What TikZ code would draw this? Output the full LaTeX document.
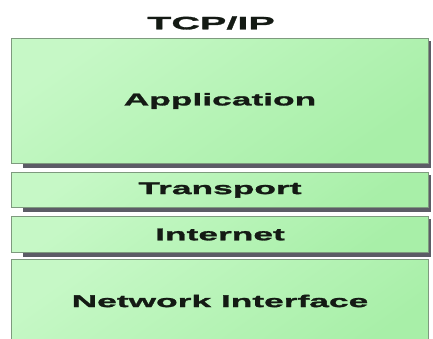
\documentclass[tikz,border=0pt]{standalone}
\usepackage{fontspec}
\newfontfamily\layerfont{Liberation Sans}[FakeStretch=2.08, FakeBold=1.6]
\newfontfamily\titlefont{Liberation Sans}[FakeStretch=2.2, FakeBold=1.6]
\definecolor{layerlight}{HTML}{C6F8C6}
\definecolor{layerdark}{HTML}{A8EFA8}
\definecolor{layeredge}{HTML}{7E9A7E}
\definecolor{dropshadow}{HTML}{5C5C66}
\definecolor{labelink}{HTML}{141A14}
\tikzset{
  layer/.style={rectangle, draw=layeredge, line width=1pt, anchor=north west,
    minimum width=417pt, inner sep=0pt,
    shading=axis, top color=layerlight, bottom color=layerdark, shading angle=35},
  layername/.style={inner sep=0pt, text=labelink,
    font=\layerfont\bfseries\fontsize{17}{20}\selectfont},
  dropfill/.style={fill=dropshadow}
}
\begin{document}
\begin{tikzpicture}[x=1pt, y=-1pt]
  \useasboundingbox (0,0) rectangle (433,338);
  \clip (0,0) rectangle (433,338);

  \node[font=\titlefont\bfseries\fontsize{18}{21}\selectfont, text=labelink] (title) at (211,23) {TCP/IP};

  % protocol layers, top to bottom
  \node[layer, minimum height=125pt] (app) at (11,38) {};
  \node[layer, minimum height=35pt] (trans) at (11,172) {};
  \node[layer, minimum height=36pt] (inet) at (11,216) {};
  \node[layer, minimum height=95pt] (net) at (11,259) {};

  % drop shadows under the upper three layers
  \foreach \b in {app, trans, inet} {
    \fill[dropfill] ([xshift=12pt]\b.south west) rectangle ([xshift=2pt,yshift=-4pt]\b.south east);
    \fill[dropfill] ([yshift=-3pt]\b.north east) rectangle ([xshift=2pt]\b.south east);
  }

  % layer names
  \node[layername] (appname) at (app.center) {Application};
  \node[layername] (transname) at (trans.center) {Transport};
  \node[layername] (inetname) at (inet.center) {Internet};
  \node[layername] (netname) at (220,301) {Network Interface};
\end{tikzpicture}
\end{document}
